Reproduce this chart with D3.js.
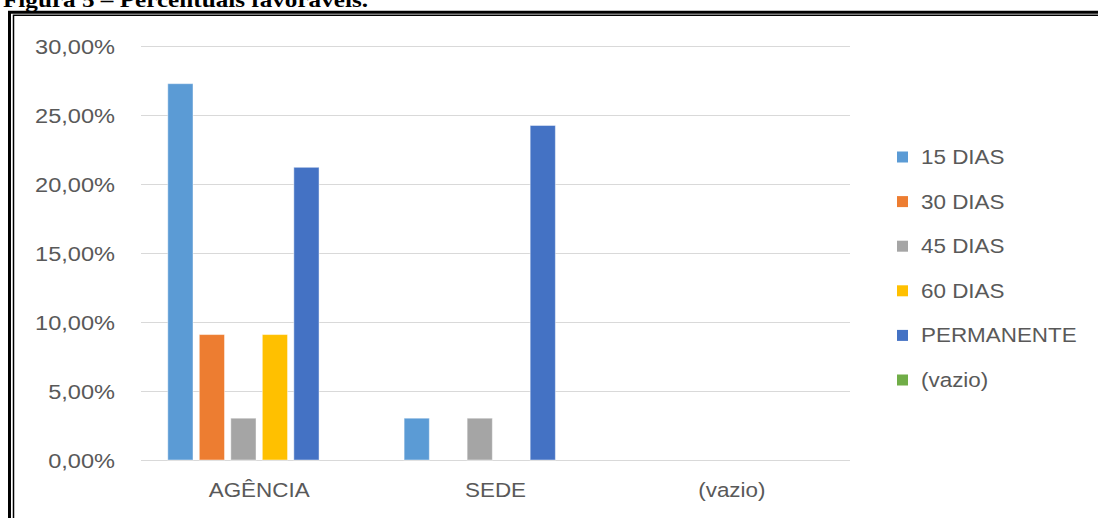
<!DOCTYPE html>
<html><head><meta charset="utf-8">
<script src="https://cdn.jsdelivr.net/npm/d3@7"></script>
<style>body{margin:0;background:#fff;}svg{display:block;}</style>
</head><body>
<svg id="c" width="1098" height="518"></svg>
<script>
const categories = ["AGÊNCIA", "SEDE", "(vazio)"];
const seriesNames = ["15 DIAS", "30 DIAS", "45 DIAS", "60 DIAS", "PERMANENTE", "(vazio)"];
const seriesColors = ["#5B9BD5", "#ED7D31", "#A5A5A5", "#FFC000", "#4472C4", "#70AD47"];
const values15 = [0.2727, 0.0303, null];
const values30 = [0.0909, null, null];
const values45 = [0.0303, 0.0303, null];
const values60 = [0.0909, null, null];
const valuesPerm = [0.2121, 0.2424, null];
const valuesVazio = [null, null, null];
const yTicks = [0, 0.05, 0.10, 0.15, 0.20, 0.25, 0.30];
const titleText = "Figura 5 – Percentuais favoráveis.";

const seriesValues = [values15, values30, values45, values60, valuesPerm, valuesVazio];
const svg = d3.select("#c");
const FONT = "'Liberation Sans', Arial, sans-serif";
const SX = 1.15;
const textColor = "#595959";

// Title (cut off at top)
svg.append("text").attr("x", 3).attr("y", 7)
  .attr("font-family", "'Liberation Serif', 'Times New Roman', serif")
  .attr("font-weight", "bold").attr("font-size", 21)
  .attr("textLength", 365).attr("lengthAdjust", "spacingAndGlyphs")
  .text(titleText);

// Frame
svg.append("path").attr("d", "M9.5,518V12.25H1098").attr("fill", "none").attr("stroke", "#000").attr("stroke-width", 3);
svg.append("path").attr("d", "M13.5,518V15.25H1098").attr("fill", "none").attr("stroke", "#000").attr("stroke-width", 1.5);

const y = d3.scaleLinear().domain([0, 0.30]).range([460, 46]);
const x0 = d3.scaleBand().domain(categories).range([141, 850]);
const x1 = d3.scaleBand().domain(seriesNames).range([0, x0.bandwidth()]).paddingInner(0.2).paddingOuter(0.85);

const loc = d3.formatLocale({decimal: ",", thousands: ".", grouping: [3], currency: ["R$", ""]});
const fmt = loc.format(".2%");

// Gridlines
svg.append("g").selectAll("line").data(yTicks).join("line")
  .attr("x1", 141).attr("x2", 850)
  .attr("y1", d => Math.round(y(d)) + 0.5).attr("y2", d => Math.round(y(d)) + 0.5)
  .attr("stroke", "#d9d9d9").attr("stroke-width", 1.2);

// Y labels
svg.append("g").selectAll("g").data(yTicks).join("g")
  .attr("transform", d => `translate(115,${y(d) + 7.5}) scale(${SX},1)`)
  .append("text").attr("text-anchor", "end")
  .attr("font-family", FONT).attr("font-size", 20.5).attr("fill", textColor)
  .text(d => fmt(d));

// Bars
const groups = svg.append("g").selectAll("g").data(categories).join("g")
  .attr("transform", d => `translate(${x0(d)},0)`);
groups.selectAll("rect")
  .data((c, ci) => seriesNames.map((s, si) => ({s, si, v: seriesValues[si][ci]})).filter(d => d.v != null))
  .join("rect")
  .attr("x", d => x1(d.s)).attr("width", x1.bandwidth())
  .attr("y", d => y(d.v)).attr("height", d => y(0) - y(d.v))
  .attr("fill", d => seriesColors[d.si])
  .attr("stroke", "#ffffff").attr("stroke-opacity", 0.45).attr("stroke-width", 1);

// X labels
svg.append("g").selectAll("g").data(categories).join("g")
  .attr("transform", d => `translate(${x0(d) + x0.bandwidth() / 2},497) scale(${SX},1)`)
  .append("text").attr("text-anchor", "middle")
  .attr("font-family", FONT).attr("font-size", 19.5).attr("fill", textColor)
  .text(d => d);

// Legend
const legendY = d3.scalePoint().domain(seriesNames).range([157, 380]);
const lg = svg.append("g").selectAll("g").data(seriesNames).join("g")
  .attr("transform", d => `translate(897,${legendY(d)})`);
lg.append("rect").attr("x", 0).attr("y", -5.5).attr("width", 11).attr("height", 11)
  .attr("fill", (d, i) => seriesColors[i]);
lg.append("g").attr("transform", `translate(24,7) scale(${SX},1)`)
  .append("text").attr("font-family", FONT).attr("font-size", 19.5).attr("fill", textColor)
  .text(d => d);
</script>
</body></html>
